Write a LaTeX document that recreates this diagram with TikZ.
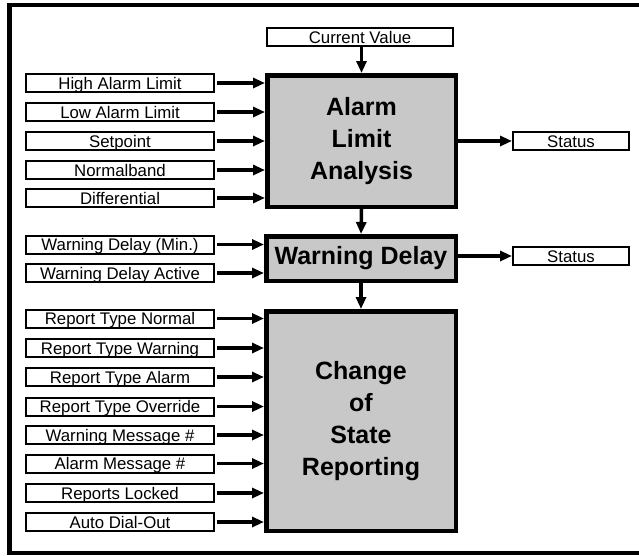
\documentclass[tikz,border=0pt]{standalone}
\usepackage{fontspec}
\setmainfont{Liberation Sans}
\setsansfont{Liberation Sans}
\usetikzlibrary{arrows.meta}
\definecolor{blockgray}{RGB}{200,200,200}
\tikzset{
  inbox/.style={draw, line width=2pt, fill=white, minimum width=188pt, minimum height=18pt,
    inner sep=0pt, text height=12pt, text depth=0pt, font=\fontsize{16.8}{18}\selectfont},
  outbox/.style={inbox, minimum width=116pt},
  block/.style={draw, line width=4.5pt, fill=blockgray, inner sep=0pt, align=center,
    font=\fontsize{25}{32}\selectfont\bfseries},
  arr/.style={line width=3.5pt, -{Triangle[length=12pt,width=10pt]}, shorten <=2pt}
}
\begin{document}
\begin{tikzpicture}[x=1pt,y=-1pt]
  \useasboundingbox (0,0) rectangle (639,555);
  % outer frame
  \begin{scope}
    \clip (0,0) rectangle (639,555);
    \draw[line width=4.5pt] (9.5,5) rectangle (646,553);
  \end{scope}

  % processing blocks
  \node[block, minimum width=188.5pt, minimum height=131.5pt] (alarm) at (361.5,141)
    {Alarm\\Limit\\Analysis};
  \node[block, minimum width=189.5pt, minimum height=44.5pt] (wd) at (361,258.5)
    {Warning Delay};
  \node[block, minimum width=189.5pt, minimum height=219.5pt] (cos) at (361,421)
    {Change\\of\\State\\Reporting};

  % top input and outputs
  \node[inbox, minimum width=186pt] (cv) at (360,37) {Current Value};
  \node[outbox] (st1) at (571,141) {Status};
  \node[outbox] (st2) at (571,256) {Status};

  % inputs of the alarm limit analysis
  \node[inbox] (hal) at (120,83) {High Alarm Limit};
  \node[inbox] (lal) at (120,112) {Low Alarm Limit};
  \node[inbox] (sp)  at (120,141) {Setpoint};
  \node[inbox] (nb)  at (120,170) {Normalband};
  \node[inbox] (dif) at (120,198) {Differential};

  % inputs of the warning delay
  \node[inbox] (wdm) at (120,244.5) {Warning Delay (Min.)};
  \node[inbox] (wda) at (120,273) {Warning Delay Active};

  % inputs of the change of state reporting
  \node[inbox] (rtn) at (120,318.5) {Report Type Normal};
  \node[inbox] (rtw) at (120,348) {Report Type Warning};
  \node[inbox] (rta) at (120,377) {Report Type Alarm};
  \node[inbox] (rto) at (120,406.5) {Report Type Override};
  \node[inbox] (wmn) at (120,435) {Warning Message \#};
  \node[inbox] (amn) at (120,463.5) {Alarm Message \#};
  \node[inbox] (rl)  at (120,493) {Reports Locked};
  \node[inbox] (ado) at (120,522) {Auto Dial-Out};

  % connectors
  \foreach \n in {hal,lal,sp,nb,dif}
    \draw[arr] (\n.east) -- (alarm.west |- \n.east);
  \foreach \n in {wdm,wda}
    \draw[arr] (\n.east) -- (wd.west |- \n.east);
  \foreach \n in {rtn,rtw,rta,rto,wmn,amn,rl,ado}
    \draw[arr] (\n.east) -- (cos.west |- \n.east);

  \draw[arr, shorten <=0pt] (alarm.north |- cv.south) -- (alarm.north);
  \draw[arr, shorten <=0pt] (alarm.south) -- (wd.north);
  \draw[arr, shorten <=0pt] (wd.south) -- (cos.north);
  \draw[arr, shorten <=0pt] (alarm.east) -- (st1.west);
  \draw[arr, shorten <=0pt] (wd.east |- st2.west) -- (st2.west);
\end{tikzpicture}
\end{document}
